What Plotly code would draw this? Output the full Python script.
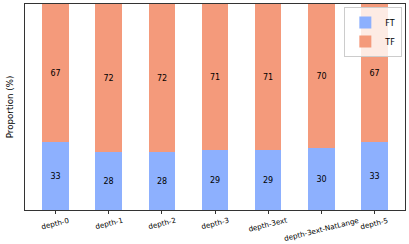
import plotly.graph_objects as go

categories = ["depth-0", "depth-1", "depth-2", "depth-3", "depth-3ext", "depth-3ext-NatLange", "depth-5"]
ft_values = [33, 28, 28, 29, 29, 30, 33]
tf_values = [67, 72, 72, 71, 71, 70, 67]

FT_COLOR = "#8db0fe"
TF_COLOR = "#f49a7b"
FONT = "DejaVu Sans"

xs = list(range(len(categories)))

fig = go.Figure()
fig.add_trace(go.Bar(
    x=xs, y=ft_values, name="FT", marker=dict(color=FT_COLOR, line=dict(width=0)),
    width=0.5, text=[str(v) for v in ft_values], textposition="inside",
    insidetextanchor="middle", textfont=dict(color="black", size=8, family=FONT),
))
fig.add_trace(go.Bar(
    x=xs, y=tf_values, name="TF", marker=dict(color=TF_COLOR, line=dict(width=0)),
    width=0.5, text=[str(v) for v in tf_values], textposition="inside",
    insidetextanchor="middle", textfont=dict(color="black", size=8, family=FONT),
))

for i, c in enumerate(categories):
    fig.add_annotation(
        x=i, y=-0.015, xref="x", yref="paper", text=c, showarrow=False,
        textangle=-14, yanchor="top", xanchor="center",
        font=dict(size=7.2, family=FONT, color="black"),
    )

fig.update_layout(
    width=409, height=244, barmode="stack", bargap=0,
    margin=dict(l=25, r=4, t=4, b=34, autoexpand=False),
    plot_bgcolor="white", paper_bgcolor="white",
    font=dict(family=FONT, size=8, color="black"),
    uniformtext=dict(mode="show", minsize=6),
    legend=dict(x=0.993, xanchor="right", y=0.985, yanchor="top", traceorder="normal",
                bgcolor="rgba(255,255,255,0.8)", bordercolor="#cccccc", borderwidth=1,
                font=dict(size=8, family=FONT), itemwidth=30, tracegroupgap=0),
    showlegend=True,
)
fig.update_xaxes(
    range=[-0.575, 6.575], tickvals=xs, ticktext=[""] * len(xs),
    ticks="outside", ticklen=3, tickcolor="#333", showgrid=False, zeroline=False,
    showline=True, linecolor="#333", linewidth=1, mirror=True, automargin=False,
)
fig.update_yaxes(
    range=[0, 100], showticklabels=False, ticks="", showgrid=False, zeroline=False,
    showline=True, linecolor="#333", linewidth=1, mirror=True, automargin=False,
    title=dict(text="Proportion (%)", font=dict(size=8.7, family=FONT), standoff=8),
)

fig.write_html("out.html", config={"displayModeBar": False},
               post_script="document.body.style.margin='0';")
